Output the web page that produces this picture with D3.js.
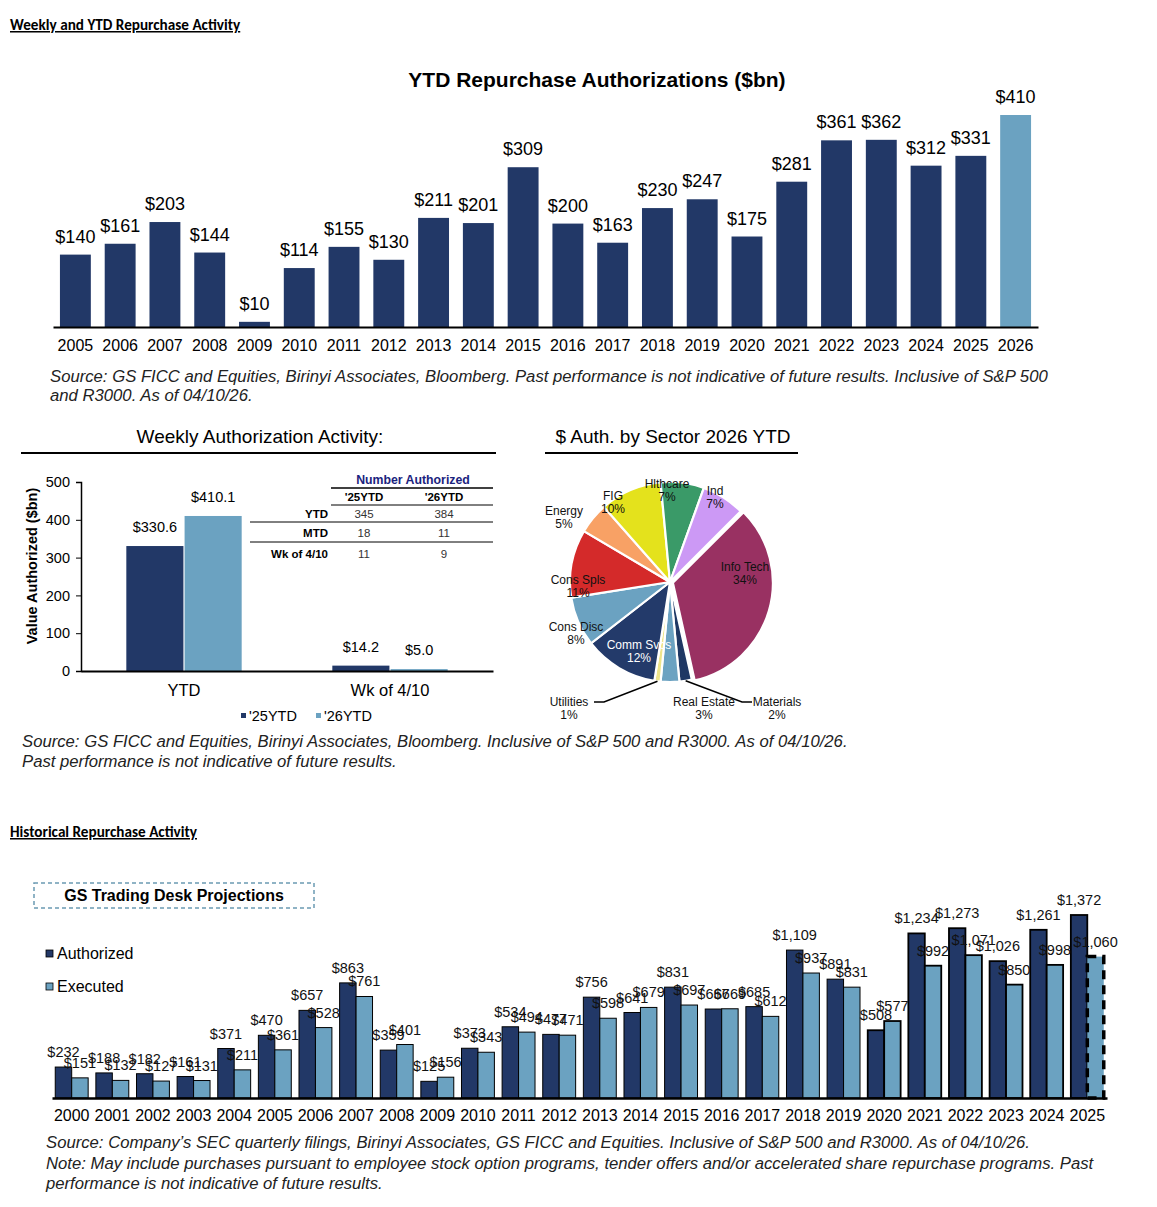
<!DOCTYPE html>
<html>
<head>
<meta charset="utf-8">
<script src="https://cdn.jsdelivr.net/npm/d3@7"></script>
<style>
  body { margin: 0; background: #fff; }
  svg { display: block; font-family: Arial, "Liberation Sans", sans-serif; }
  .src { font-style: italic; font-size: 16.7px; fill: #222; }
  .hdr { font-family: Calibri, Carlito, "Open Sans", sans-serif; font-weight: bold; font-size: 15.2px; text-decoration: underline; }
</style>
</head>
<body>
<div id="chart"></div>
<script>
// ---- data ----
const ytdYears = ["2005","2006","2007","2008","2009","2010","2011","2012","2013","2014","2015",
  "2016","2017","2018","2019","2020","2021","2022","2023","2024","2025","2026"];
const ytdValues = [140,161,203,144,10,114,155,130,211,201,309,200,163,230,247,175,281,361,362,312,331,410];

const weeklyCats = ["YTD", "Wk of 4/10"];
const weeklySeries = ["'25YTD", "'26YTD"];
const weekly25 = [330.6, 14.2];
const weekly26 = [410.1, 5.0];
const weeklyTicks = [0,100,200,300,400,500];

const tableHead = ["'25YTD", "'26YTD"];
const tableRows = ["YTD", "MTD", "Wk of 4/10"];
const table25 = [345, 18, 11];
const table26 = [384, 11, 9];

const sectors = ["Info Tech","Materials","Real Estate","Utilities","Comm Svcs","Cons Disc","Cons Spls","Energy","FIG","Hlthcare","Ind"];
const sectorPct = [34,2,3,1,12,8,11,5,10,7,7];
const sectorColors = ["#993162","#1f3864","#6ba2c1","#eee48a","#233a6a","#6ba2c1","#d42a2a","#f8a165","#e4e21c","#3a9a68","#cc99f5"];

const histYears = d3.range(2000, 2026).map(String);
const histAuthorized = [232,188,182,161,371,470,657,863,359,125,373,534,477,756,641,831,667,685,1109,891,508,1234,1273,1026,1261,1372];
const histExecuted  = [151,132,127,131,211,361,528,761,401,156,343,494,471,598,679,697,669,612,937,831,577,992,1071,850,998,1060];

const NAVY = "#223867", LIGHT = "#6ba2c1";

const W = 1157, H = 1207;
const svg = d3.select("#chart").append("svg").attr("width", W).attr("height", H);

// section headers
svg.append("text").attr("class","hdr").attr("x",10).attr("y",30).text("Weekly and YTD Repurchase Activity");
svg.append("text").attr("class","hdr").attr("x",10).attr("y",837).text("Historical Repurchase Activity");

// ---- top chart: YTD authorizations ----
svg.append("text").attr("x",597).attr("y",87).attr("text-anchor","middle")
  .style("font-weight","bold").style("font-size","21px").text("YTD Repurchase Authorizations ($bn)");

const x1 = d3.scaleBand().domain(ytdYears).range([53,1038]).paddingInner(0.31).paddingOuter(0.155);
const y1 = d3.scaleLinear().domain([0,410]).range([327,115]);

const g1 = svg.append("g");
g1.selectAll("rect").data(ytdYears).join("rect")
  .attr("x", d => x1(d)).attr("width", x1.bandwidth())
  .attr("y", (d,i) => y1(ytdValues[i])).attr("height", (d,i) => y1(0) - y1(ytdValues[i]))
  .attr("fill", d => d === "2026" ? LIGHT : NAVY);
g1.selectAll("text.v").data(ytdYears).join("text").attr("class","v")
  .attr("x", d => x1(d) + x1.bandwidth()/2).attr("y", (d,i) => y1(ytdValues[i]) - 12)
  .attr("text-anchor","middle").style("font-size","18px").text((d,i) => "$" + ytdValues[i]);
const ax1 = svg.append("g").attr("transform","translate(0,327)")
  .call(d3.axisBottom(x1).tickSize(0).tickPadding(13));
ax1.select(".domain").attr("stroke","#000").attr("stroke-width",2.2);
ax1.selectAll("text").style("font-size","16px").style("font-family","Arial, 'Liberation Sans'").attr("fill","#000");

svg.append("text").attr("class","src").attr("x",50).attr("y",382)
  .text("Source: GS FICC and Equities, Birinyi Associates, Bloomberg. Past performance is not indicative of future results. Inclusive of S&P 500");
svg.append("text").attr("class","src").attr("x",50).attr("y",401).text("and R3000. As of 04/10/26.");

// ---- middle left: weekly activity ----
svg.append("text").attr("x",260).attr("y",443).attr("text-anchor","middle").style("font-size","19px")
  .text("Weekly Authorization Activity:");
svg.append("line").attr("x1",21).attr("x2",496).attr("y1",453).attr("y2",453).attr("stroke","#000").attr("stroke-width",2);

const x2 = d3.scaleBand().domain(weeklyCats).range([81,493]).paddingInner(0.44).paddingOuter(0.22);
const x2s = d3.scaleBand().domain(weeklySeries).range([0, x2.bandwidth()]).paddingInner(0.02);
const y2 = d3.scaleLinear().domain([0,500]).range([671,482]);

const ay2 = svg.append("g").attr("transform","translate(81,0)")
  .call(d3.axisLeft(y2).tickValues(weeklyTicks).tickSize(5).tickPadding(6));
ay2.select(".domain").attr("stroke","#000").attr("stroke-width",1.5);
ay2.selectAll("text").style("font-size","14.5px").attr("fill","#000");
svg.append("text").attr("transform","translate(37,566) rotate(-90)").attr("text-anchor","middle")
  .style("font-weight","bold").style("font-size","14.5px").text("Value Authorized ($bn)");

const weeklyData = [weekly25, weekly26];
weeklySeries.forEach((s, si) => {
  const vals = weeklyData[si];
  svg.append("g").selectAll("rect").data(weeklyCats).join("rect")
    .attr("x", d => x2(d) + x2s(s)).attr("width", x2s.bandwidth())
    .attr("y", (d,i) => y2(vals[i])).attr("height", (d,i) => y2(0) - y2(vals[i]))
    .attr("fill", si === 0 ? NAVY : LIGHT);
  svg.append("g").selectAll("text").data(weeklyCats).join("text")
    .attr("x", d => x2(d) + x2s(s) + x2s.bandwidth()/2)
    .attr("y", (d,i) => y2(vals[i]) - 14)
    .attr("text-anchor","middle").style("font-size","14.5px").text((d,i) => "$" + vals[i].toFixed(1));
});
const ax2 = svg.append("g").attr("transform","translate(0,671)")
  .call(d3.axisBottom(x2).tickSize(0).tickPadding(13));
ax2.select(".domain").attr("stroke","#000").attr("stroke-width",2);
ax2.selectAll("text").style("font-size","16.5px").attr("fill","#000");

// weekly legend
const lg2 = svg.append("g");
[[241,"'25YTD",NAVY],[316,"'26YTD",LIGHT]].forEach(([lx, t, c]) => {
  lg2.append("rect").attr("x",lx).attr("y",713).attr("width",5).attr("height",5).attr("fill",c);
  lg2.append("text").attr("x",lx+8).attr("y",721).style("font-size","14.5px").text(t);
});

// number authorized table
const tb = svg.append("g").style("font-size","11.5px");
tb.append("text").attr("x",413).attr("y",484).attr("text-anchor","middle").style("font-size","12.3px")
  .style("font-weight","bold").attr("fill","#1a237e").text("Number Authorized");
tb.append("line").attr("x1",331).attr("x2",493).attr("y1",488).attr("y2",488).attr("stroke","#000").attr("stroke-width",1.5);
const colX = [364, 444];
tableHead.forEach((h,i) => tb.append("text").attr("x",colX[i]).attr("y",501).attr("text-anchor","middle")
  .style("font-weight","bold").text(h));
tb.append("line").attr("x1",331).attr("x2",493).attr("y1",505).attr("y2",505).attr("stroke","#000").attr("stroke-width",1);
const rowY = [518, 537, 558];
tableRows.forEach((r,i) => {
  tb.append("text").attr("x",328).attr("y",rowY[i]).attr("text-anchor","end").style("font-weight","bold").text(r);
  tb.append("text").attr("x",colX[0]).attr("y",rowY[i]).attr("text-anchor","middle").attr("fill","#333").text(table25[i]);
  tb.append("text").attr("x",colX[1]).attr("y",rowY[i]).attr("text-anchor","middle").attr("fill","#333").text(table26[i]);
});
[522, 542].forEach(ly => tb.append("line").attr("x1",250).attr("x2",493).attr("y1",ly).attr("y2",ly)
  .attr("stroke","#000").attr("stroke-width",1));

// ---- middle right: sector pie ----
svg.append("text").attr("x",673).attr("y",443).attr("text-anchor","middle").style("font-size","19px")
  .text("$ Auth. by Sector 2026 YTD");
svg.append("line").attr("x1",545).attr("x2",798).attr("y1",453).attr("y2",453).attr("stroke","#000").attr("stroke-width",2);

const cx = 670, cy = 582, R = 100;
const a0 = 45 * Math.PI / 180;
const pie = d3.pie().sort(null).startAngle(a0).endAngle(a0 + 2*Math.PI)(sectorPct);
const arc = d3.arc().innerRadius(0).outerRadius(R);
const pg = svg.append("g").attr("transform",`translate(${cx},${cy})`);
pg.selectAll("path").data(pie).join("path")
  .attr("d", arc).attr("fill", (d,i) => sectorColors[i])
  .attr("transform", (d,i) => {
    // info tech is pulled slightly out of the pie
    if (i !== 0) return null;
    const m = (d.startAngle + d.endAngle) / 2;
    return `translate(${3*Math.sin(m)},${-3*Math.cos(m)})`;
  })
  .attr("stroke","#fff").attr("stroke-width",2.2);

// label positions relative to pie centre
const sectorLabelPos = {
  "Info Tech": [75, -11], "Materials": [107, 124], "Real Estate": [34, 124], "Utilities": [-101, 124],
  "Comm Svcs": [-31, 67], "Cons Disc": [-94, 49], "Cons Spls": [-92, 2], "Energy": [-106, -67],
  "FIG": [-57, -82], "Hlthcare": [-3, -94], "Ind": [45, -87]
};
const lab = pg.append("g").style("font-size","12px").attr("text-anchor","middle");
sectors.forEach((s,i) => {
  const [lx, ly] = sectorLabelPos[s];
  const t = lab.append("text").attr("x",lx).attr("y",ly).attr("fill", s === "Comm Svcs" ? "#fff" : "#111");
  t.append("tspan").attr("x",lx).text(s);
  t.append("tspan").attr("x",lx).attr("dy","1.1em").text(sectorPct[i] + "%");
});
// leader lines for small slices
function leader(name, endX, endY) {
  const i = sectors.indexOf(name);
  const [px, py] = d3.arc().innerRadius(R).outerRadius(R).centroid(pie[i]);
  pg.append("polyline").attr("points", `${px},${py} ${endX},${endY - 4} ${endX + (endX < 0 ? -10 : 10)},${endY - 4}`)
    .attr("fill","none").attr("stroke","#000").attr("stroke-width",1.5);
}
leader("Utilities", -66, 124);
leader("Materials", 72, 124);

svg.append("text").attr("class","src").attr("x",22).attr("y",747)
  .text("Source: GS FICC and Equities, Birinyi Associates, Bloomberg. Inclusive of S&P 500 and R3000. As of 04/10/26.");
svg.append("text").attr("class","src").attr("x",22).attr("y",767).text("Past performance is not indicative of future results.");

// ---- bottom: historical activity ----
svg.append("rect").attr("x",34).attr("y",883).attr("width",280).attr("height",25)
  .attr("fill","none").attr("stroke","#6b9bb3").attr("stroke-width",1.5).attr("stroke-dasharray","4,3");
svg.append("text").attr("x",174).attr("y",901).attr("text-anchor","middle")
  .style("font-weight","bold").style("font-size","16px").text("GS Trading Desk Projections");

const histSeries = ["Authorized","Executed"];
const lg3 = svg.append("g");
histSeries.forEach((s,i) => {
  const ly = 954 + i*33;
  lg3.append("rect").attr("x",46).attr("y",ly-4).attr("width",7).attr("height",7)
    .attr("fill", i === 0 ? NAVY : LIGHT).attr("stroke","#000").attr("stroke-width",0.8);
  lg3.append("text").attr("x",57).attr("y",ly+5).style("font-size","16px").text(s);
});

const x3 = d3.scaleBand().domain(histYears).range([52,1107]).paddingInner(0.19).paddingOuter(0.08);
const x3s = d3.scaleBand().domain(histSeries).range([0, x3.bandwidth()]);
const y3 = d3.scaleLinear().domain([0,1372]).range([1098,915]);
const histData = [histAuthorized, histExecuted];

histSeries.forEach((s, si) => {
  const vals = histData[si];
  svg.append("g").selectAll("rect").data(histYears).join("rect")
    .attr("x", d => x3(d) + x3s(s)).attr("width", x3s.bandwidth())
    .attr("y", (d,i) => y3(vals[i])).attr("height", (d,i) => y3(0) - y3(vals[i]))
    .attr("fill", si === 0 ? NAVY : LIGHT)
    .attr("stroke","#000")
    .attr("stroke-dasharray", d => (si === 1 && d === "2025") ? "9,6" : null)
    .attr("stroke-width", d => (si === 1 && d === "2025") ? 3.5 : (+d >= 2020 ? 1.8 : 1));
});
histSeries.forEach((s, si) => {
  const vals = histData[si];
  svg.append("g").selectAll("text").data(histYears).join("text")
    .attr("x", d => x3(d) + x3s(s) + x3s.bandwidth()/2)
    .attr("y", (d,i) => y3(vals[i]) - 10)
    .attr("text-anchor","middle").style("font-size","14.5px").attr("fill","#111")
    .text((d,i) => "$" + d3.format(",")(vals[i]));
});
const ax3 = svg.append("g").attr("transform","translate(0,1098)")
  .call(d3.axisBottom(x3).tickSize(0).tickPadding(12));
ax3.select(".domain").attr("stroke","#000").attr("stroke-width",2.5);
ax3.selectAll("text").style("font-size","16px").attr("fill","#000");

svg.append("text").attr("class","src").attr("x",46).attr("y",1148)
  .text("Source: Company\u2019s SEC quarterly filings, Birinyi Associates, GS FICC and Equities. Inclusive of S&P 500 and R3000. As of 04/10/26.");
svg.append("text").attr("class","src").attr("x",46).attr("y",1169)
  .text("Note: May include purchases pursuant to employee stock option programs, tender offers and/or accelerated share repurchase programs. Past");
svg.append("text").attr("class","src").attr("x",46).attr("y",1189).text("performance is not indicative of future results.");
</script>
</body>
</html>
